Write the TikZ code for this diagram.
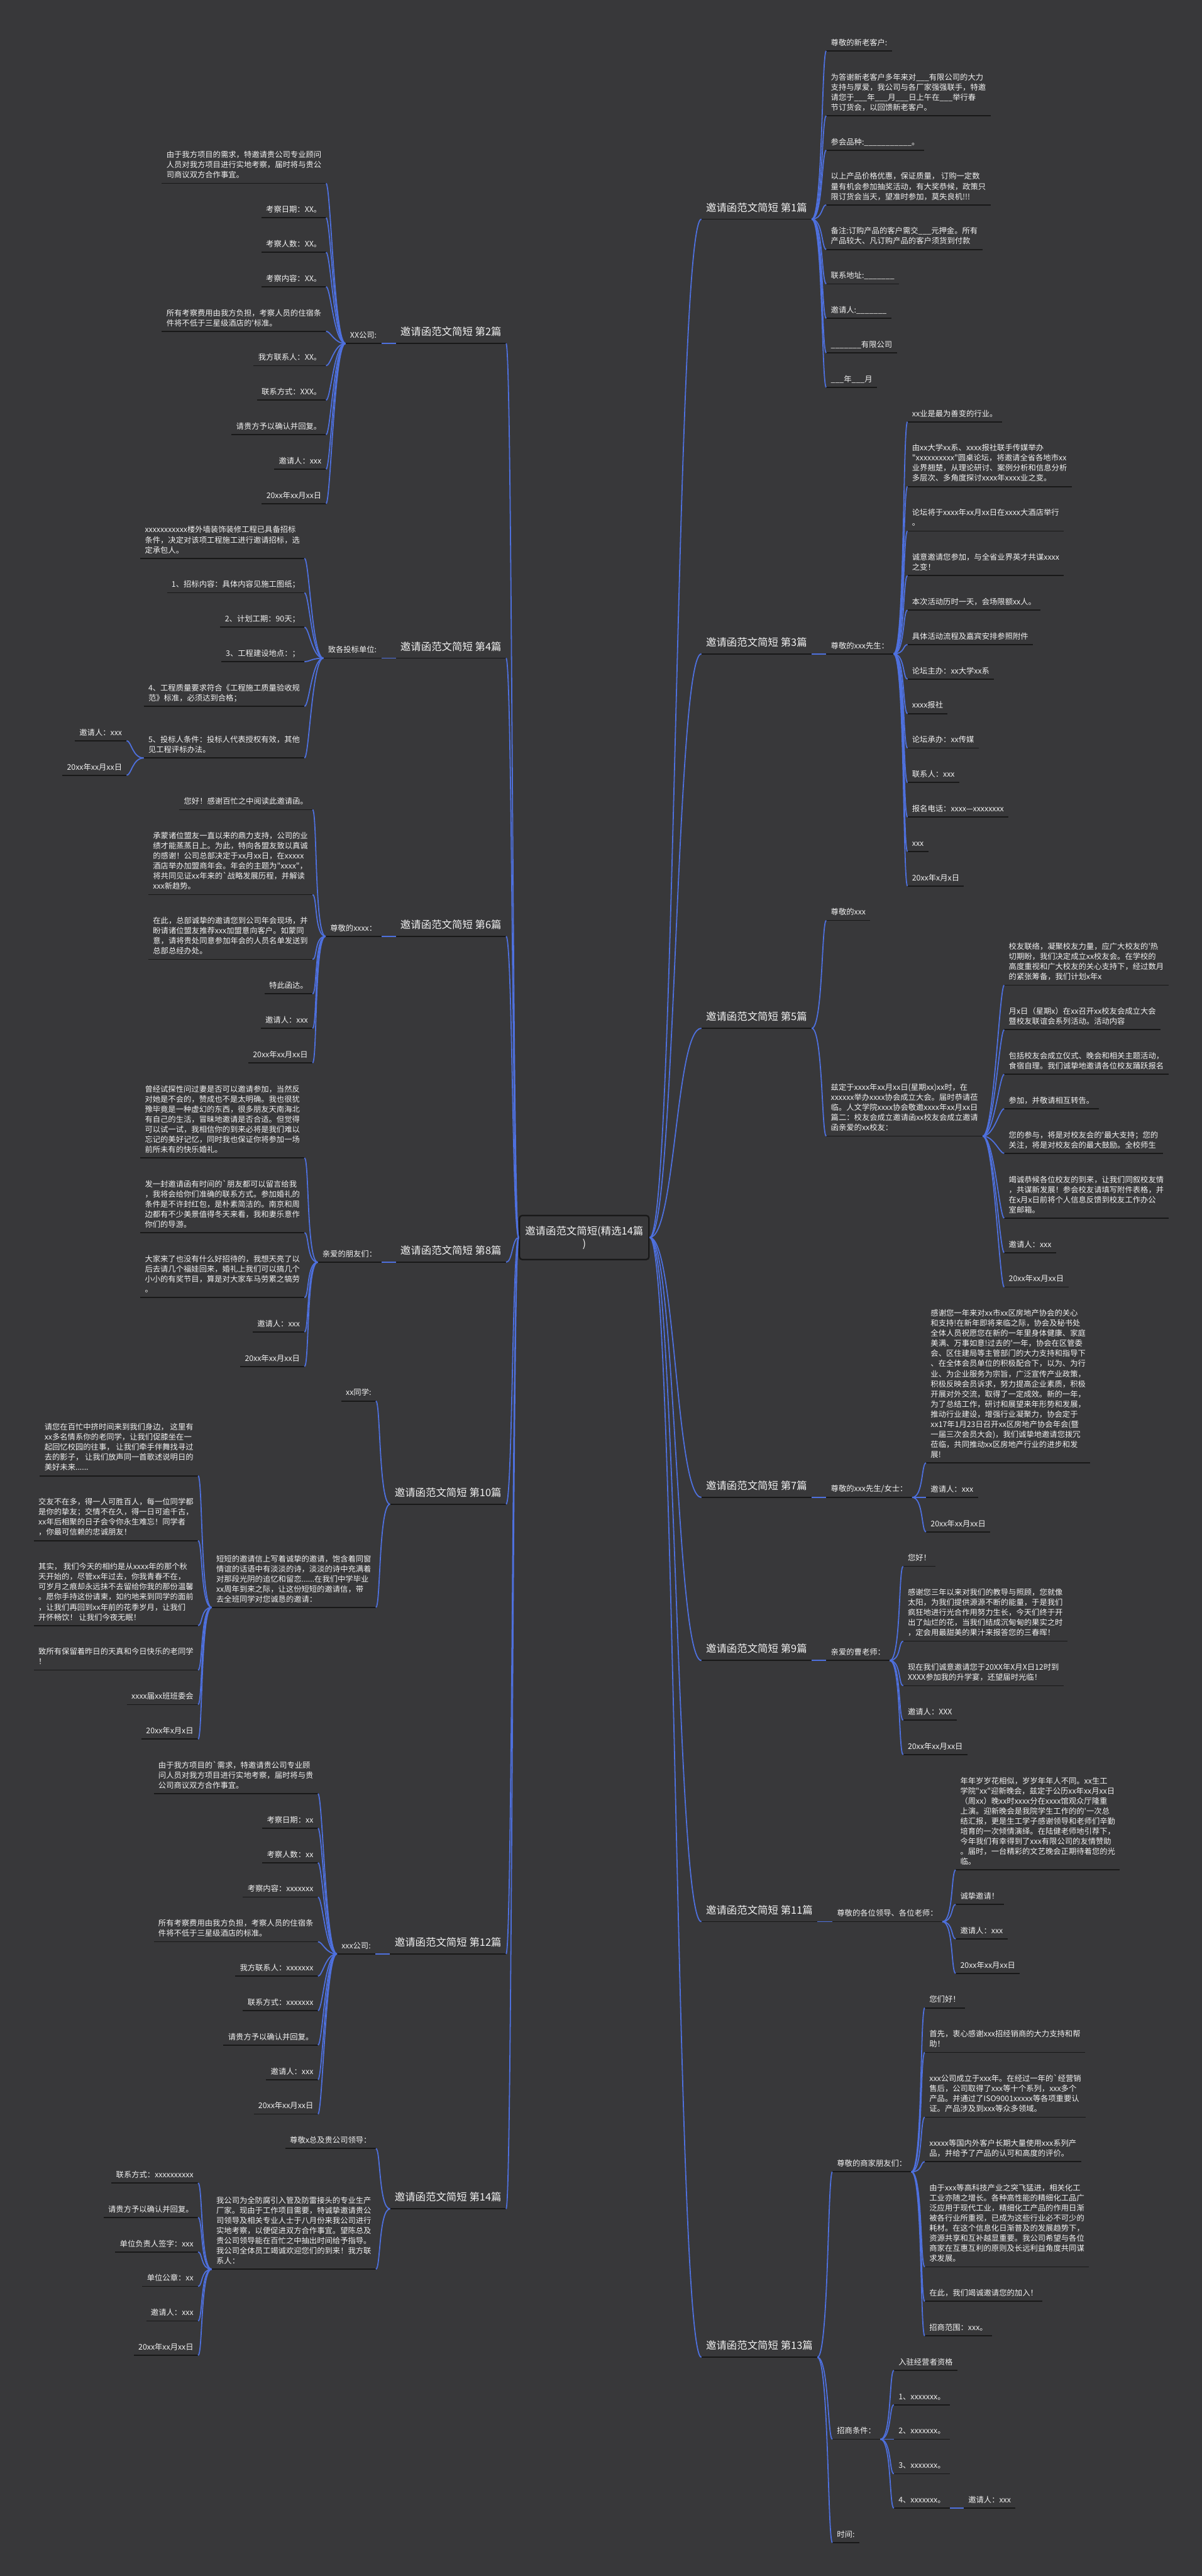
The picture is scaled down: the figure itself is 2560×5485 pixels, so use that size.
\documentclass[tikz,border=0pt]{standalone}
\usepackage{fontspec}
\newfontfamily\cjk{Noto Sans CJK SC}
\usetikzlibrary{calc}
\definecolor{bgc}{RGB}{56,56,58}
\definecolor{lnk}{RGB}{78,112,222}
\definecolor{ulc}{RGB}{24,24,24}
\definecolor{txc}{RGB}{242,242,242}
\tikzset{
  leaf/.style={inner xsep=4.75pt,inner ysep=4.5pt,align=left,text=txc,font=\cjk\fontsize{8.25}{10.75}\selectfont},
  brn/.style={inner xsep=4.75pt,inner ysep=6.8pt,align=left,text=txc,font=\cjk\fontsize{11}{13}\selectfont},
  ctr/.style={draw=ulc,line width=1.5pt,fill=bgc,rounded corners=3pt,inner xsep=6pt,inner ysep=11pt,align=center,text=txc,font=\cjk\fontsize{11}{13.5}\selectfont},
  ul/.style={draw=ulc,line width=1.2pt},
  conn/.style={draw=lnk,line width=1.2pt},
}
\newcommand\RN[4]{\node[leaf,anchor=south west] (#1) at (#2,#3) {#4\rule[-1.1pt]{0pt}{1pt}};\draw[ul] (#1.south west) -- (#1.south east);}
\newcommand\LN[4]{\node[leaf,anchor=south east] (#1) at (#2,#3) {#4\rule[-1.1pt]{0pt}{1pt}};\draw[ul] (#1.south west) -- (#1.south east);}
\newcommand\RB[3]{\node[brn,anchor=south west] (#1) at (1494,#2) {#3\rule[-1.3pt]{0pt}{1pt}};\draw[ul] (#1.south west) -- (#1.south east);}
\newcommand\LB[3]{\node[brn,anchor=south east] (#1) at (1078,#2) {#3\rule[-1.3pt]{0pt}{1pt}};\draw[ul] (#1.south west) -- (#1.south east);}
\newcommand\CR[2]{\draw[conn] (#1.south east) .. controls ([xshift=12pt]#1.south east) and ([xshift=-5pt]#2.south west) .. (#2.south west);}
\newcommand\CL[2]{\draw[conn] (#1.south west) .. controls ([xshift=-12pt]#1.south west) and ([xshift=5pt]#2.south east) .. (#2.south east);}
\begin{document}
\begin{tikzpicture}[x=0.5pt,y=-0.5pt]
\fill[bgc] (0,0) rectangle (2560,5485);
\useasboundingbox (0,0) rectangle (2560,5485);
% ---------------- center
\node[ctr,anchor=west] (C) at (1105,2635) {邀请函范文简短(精选14篇\\)};
% ---------------- right 1
\RB{b1}{466.6}{邀请函范文简短 第1篇}
\RN{n1a}{1760}{108.5}{尊敬的新老客户:}
\RN{n1b}{1760}{246.4}{为答谢新老客户多年来对\_\_\_有限公司的大力\\支持与厚爱，我公司与各厂家强强联手，特邀\\请您于\_\_\_年\_\_\_月\_\_\_日上午在\_\_\_举行春\\节订货会，以回馈新老客户。}
\RN{n1c}{1760}{319.8}{参会品种:\_\_\_\_\_\_\_\_\_\_\_。}
\RN{n1d}{1760}{436.2}{以上产品价格优惠，保证质量， 订购一定数\\量有机会参加抽奖活动，有大奖恭候，政策只\\限订货会当天，望准时参加，莫失良机!!!}
\RN{n1e}{1760}{531.1}{备注:订购产品的客户需交\_\_\_元押金。所有\\产品较大、凡订购产品的客户须货到付款}
\RN{n1f}{1760}{604.5}{联系地址:\_\_\_\_\_\_\_}
\RN{n1g}{1760}{677.9}{邀请人:\_\_\_\_\_\_\_}
\RN{n1h}{1760}{751.3}{\_\_\_\_\_\_\_有限公司}
\RN{n1i}{1760}{824.7}{\_\_\_年\_\_\_月}
\foreach \x in {a,...,i}{\CR{b1}{n1\x}}
% ---------------- right 3
\RB{b3}{1392.25}{邀请函范文简短 第3篇}
\RN{s3}{1760}{1392.25}{尊敬的xxx先生：}
\CR{b3}{s3}
\RN{n3a}{1933}{898.1}{xx业是最为善变的行业。}
\RN{n3b}{1933}{1036.0}{由xx大学xx系、xxxx报社联手传媒举办\\"xxxxxxxxxx"圆桌论坛，将邀请全省各地市xx\\业界翘楚，从理论研讨、案例分析和信息分析\\多层次、多角度探讨xxxx年xxxx业之变。}
\RN{n3c}{1933}{1130.9}{论坛将于xxxx年xx月xx日在xxxx大酒店举行\\。}
\RN{n3d}{1933}{1225.8}{诚意邀请您参加，与全省业界英才共谋xxxx\\之变！}
\RN{n3e}{1933}{1299.2}{本次活动历时一天，会场限额xx人。}
\RN{n3f}{1933}{1372.6}{具体活动流程及嘉宾安排参照附件}
\RN{n3g}{1933}{1446.0}{论坛主办：xx大学xx系}
\RN{n3h}{1933}{1519.4}{xxxx报社}
\RN{n3i}{1933}{1592.8}{论坛承办：xx传媒}
\RN{n3j}{1933}{1666.2}{联系人：xxx}
\RN{n3k}{1933}{1739.6}{报名电话：xxxx—xxxxxxxx}
\RN{n3l}{1933}{1813.0}{xxx}
\RN{n3m}{1933}{1886.4}{20xx年x月x日}
\foreach \x in {a,...,m}{\CR{s3}{n3\x}}
% ---------------- right 5
\RB{b5}{2189.45}{邀请函范文简短 第5篇}
\RN{n5a}{1760}{1959.8}{尊敬的xxx}
\RN{n5b}{1760}{2419.1}{兹定于xxxx年xx月xx日(星期xx)xx时，在\\xxxxxx举办xxxx协会成立大会。届时恭请莅\\临。人文学院xxxx协会敬邀xxxx年xx月xx日\\篇二：校友会成立邀请函xx校友会成立邀请\\函亲爱的xx校友：}
\CR{b5}{n5a}\CR{b5}{n5b}
\RN{m5a}{2139}{2097.7}{校友联络，凝聚校友力量，应广大校友的'热\\切期盼，我们决定成立xx校友会。在学校的\\高度重视和广大校友的关心支持下，经过数月\\的紧张筹备，我们计划x年x}
\RN{m5b}{2139}{2192.6}{月x日（星期x）在xx召开xx校友会成立大会\\暨校友联谊会系列活动。活动内容}
\RN{m5c}{2139}{2287.5}{包括校友会成立仪式、晚会和相关主题活动，\\食宿自理。我们诚挚地邀请各位校友踊跃报名}
\RN{m5d}{2139}{2360.9}{参加，并敬请相互转告。}
\RN{m5e}{2139}{2455.8}{您的参与，将是对校友会的'最大支持；您的\\关注，将是对校友会的最大鼓励。全校师生}
\RN{m5f}{2139}{2593.7}{竭诚恭候各位校友的到来，让我们同叙校友情\\，共谋新发展！参会校友请填写附件表格，并\\在x月x日前将个人信息反馈到校友工作办公\\室邮箱。}
\RN{m5g}{2139}{2667.1}{邀请人：xxx}
\RN{m5h}{2139}{2740.5}{20xx年xx月xx日}
\foreach \x in {a,...,h}{\CR{n5b}{m5\x}}
% ---------------- right 7
\RB{b7}{3188.3}{邀请函范文简短 第7篇}
\RN{s7}{1760}{3188.3}{尊敬的xxx先生/女士：}
\CR{b7}{s7}
\RN{n7a}{1972.6}{3114.9}{感谢您一年来对xx市xx区房地产协会的关心\\和支持!在新年即将来临之际，协会及秘书处\\全体人员祝愿您在新的一年里身体健康、家庭\\美满、万事如意!过去的'一年，协会在区管委\\会、区住建局等主管部门的大力支持和指导下\\、在全体会员单位的积极配合下，以为、为行\\业、为企业服务为宗旨，广泛宣传产业政策，\\积极反映会员诉求，努力提高企业素质，积极\\开展对外交流，取得了一定成效。新的一年，\\为了总结工作，研讨和展望来年形势和发展，\\推动行业建设，增强行业凝聚力，协会定于\\xx17年1月23日召开xx区房地产协会年会(暨\\一届三次会员大会)，我们诚挚地邀请您拨冗\\莅临，共同推动xx区房地产行业的进步和发\\展!}
\RN{n7b}{1972.6}{3188.3}{邀请人：xxx}
\RN{n7c}{1972.6}{3261.7}{20xx年xx月xx日}
\foreach \x in {a,...,c}{\CR{s7}{n7\x}}
% ---------------- right 9
\RB{b9}{3535.65}{邀请函范文简短 第9篇}
\RN{s9}{1760}{3535.65}{亲爱的曹老师：}
\CR{b9}{s9}
\RN{n9a}{1923.8}{3335.1}{您好！}
\RN{n9b}{1923.8}{3494.5}{感谢您三年以来对我们的教导与照顾，您就像\\太阳，为我们提供源源不断的能量，于是我们\\疯狂地进行光合作用努力生长，今天们终于开\\出了灿烂的花，当我们结成沉甸甸的果实之时\\，定会用最甜美的果汁来报答您的三春晖！}
\RN{n9c}{1923.8}{3589.4}{现在我们诚意邀请您于20XX年X月X日12时到\\XXXX参加我的升学宴，还望届时光临！}
\RN{n9d}{1923.8}{3662.8}{邀请人：XXX}
\RN{n9e}{1923.8}{3736.2}{20xx年xx月xx日}
\foreach \x in {a,...,e}{\CR{s9}{n9\x}}
% ---------------- right 11
\RB{b11}{4091.7}{邀请函范文简短 第11篇}
\RN{s11}{1773}{4091.7}{尊敬的各位领导、各位老师：}
\CR{b11}{s11}
\RN{n11a}{2035.7}{3981.6}{年年岁岁花相似，岁岁年年人不同。xx生工\\学院"xx"迎新晚会，兹定于公历xx年xx月xx日\\（周xx）晚xx时xxxx分在xxxx馆观众厅隆重\\上演。迎新晚会是我院学生工作的的'一次总\\结汇报，更是生工学子感谢领导和老师们辛勤\\培育的一次倾情演绎。在陆健老师地引荐下，\\今年我们有幸得到了xxx有限公司的友情赞助\\。届时，一台精彩的文艺晚会正期待着您的光\\临。}
\RN{n11b}{2035.7}{4055.0}{诚挚邀请！}
\RN{n11c}{2035.7}{4128.4}{邀请人：xxx}
\RN{n11d}{2035.7}{4201.8}{20xx年xx月xx日}
\foreach \x in {a,...,d}{\CR{s11}{n11\x}}
% ---------------- right 13
\RB{b13}{5019.2}{邀请函范文简短 第13篇}
\RN{s13a}{1773}{4624.4}{尊敬的商家朋友们：}
\RN{s13b}{1773}{5193.8}{招商条件：}
\RN{s13c}{1773}{5414.0}{时间:}
\CR{b13}{s13a}\CR{b13}{s13b}\CR{b13}{s13c}
\RN{n13a}{1969.8}{4275.2}{您们好！}
\RN{n13b}{1969.8}{4370.1}{首先，衷心感谢xxx招经销商的大力支持和帮\\助！}
\RN{n13c}{1969.8}{4508.0}{xxx公司成立于xxx年。在经过一年的`经营销\\售后，公司取得了xxx等十个系列，xxx多个\\产品。并通过了ISO9001xxxxx等各项重要认\\证。产品涉及到xxx等众多领域。}
\RN{n13d}{1969.8}{4602.9}{xxxxx等国内外客户长期大量使用xxx系列产\\品，并给予了产品的认可和高度的评价。}
\RN{n13e}{1969.8}{4826.8}{由于xxx等高科技产业之突飞猛进，相关化工\\工业亦随之增长。各种高性能的精细化工品广\\泛应用于现代工业，精细化工产品的作用日渐\\被各行业所重视，已成为这些行业必不可少的\\耗材。在这个信息化日渐普及的发展趋势下，\\资源共享和互补越显重要。我公司希望与各位\\商家在互惠互利的原则及长远利益角度共同谋\\求发展。}
\RN{n13f}{1969.8}{4900.2}{在此，我们竭诚邀请您的加入！}
\RN{n13g}{1969.8}{4973.6}{招商范围：xxx。}
\foreach \x in {a,...,g}{\CR{s13a}{n13\x}}
\RN{k13a}{1904}{5047.0}{入驻经营者资格}
\RN{k13b}{1904}{5120.4}{1、xxxxxxx。}
\RN{k13c}{1904}{5193.8}{2、xxxxxxx。}
\RN{k13d}{1904}{5267.2}{3、xxxxxxx。}
\RN{k13e}{1904}{5340.6}{4、xxxxxxx。}
\foreach \x in {a,...,e}{\CR{s13b}{k13\x}}
\RN{j13}{2052.7}{5340.6}{邀请人：xxx}
\CR{k13e}{j13}
% ---------------- left 2
\LB{b2}{731.35}{邀请函范文简短 第2篇}
\LN{s2}{812.2}{731.35}{XX公司:}
\CL{b2}{s2}
\LN{n2a}{694.5}{390.3}{由于我方项目的需求，特邀请贵公司专业顾问\\人员对我方项目进行实地考察，届时将与贵公\\司商议双方合作事宜。}
\LN{n2b}{694.5}{463.7}{考察日期：XX。}
\LN{n2c}{694.5}{537.1}{考察人数：XX。}
\LN{n2d}{694.5}{610.5}{考察内容：XX。}
\LN{n2e}{694.5}{705.4}{所有考察费用由我方负担，考察人员的住宿条\\件将不低于三星级酒店的'标准。}
\LN{n2f}{694.5}{778.8}{我方联系人：XX。}
\LN{n2g}{694.5}{852.2}{联系方式：XXX。}
\LN{n2h}{694.5}{925.6}{请贵方予以确认并回复。}
\LN{n2i}{694.5}{999.0}{邀请人：xxx}
\LN{n2j}{694.5}{1072.4}{20xx年xx月xx日}
\foreach \x in {a,...,j}{\CL{s2}{n2\x}}
% ---------------- left 4
\LB{b4}{1401.4}{邀请函范文简短 第4篇}
\LN{s4}{812.2}{1401.4}{致各投标单位:}
\CL{b4}{s4}
\LN{n4a}{648.6}{1188.8}{xxxxxxxxxxx楼外墙装饰装修工程已具备招标\\条件，决定对该项工程施工进行邀请招标，选\\定承包人。}
\LN{n4b}{648.6}{1262.2}{1、招标内容：具体内容见施工图纸；}
\LN{n4c}{648.6}{1335.6}{2、计划工期：90天；}
\LN{n4d}{648.6}{1409.0}{3、工程建设地点：；}
\LN{n4e}{648.6}{1503.9}{4、工程质量要求符合《工程施工质量验收规\\范》标准，必须达到合格；}
\LN{n4f}{648.6}{1614.0}{5、投标人条件：投标人代表授权有效，其他\\见工程评标办法。}
\foreach \x in {a,...,f}{\CL{s4}{n4\x}}
\LN{m4a}{269.8}{1577.3}{邀请人：xxx}
\LN{m4b}{269.8}{1650.7}{20xx年xx月xx日}
\CL{n4f}{m4a}\CL{n4f}{m4b}
% ---------------- left 6
\LB{b6}{1993.6}{邀请函范文简短 第6篇}
\LN{s6}{812.2}{1993.6}{尊敬的xxxx：}
\CL{b6}{s6}
\LN{n6a}{665.8}{1724.1}{您好！感谢百忙之中阅读此邀请函。}
\LN{n6b}{665.8}{1905.0}{承蒙诸位盟友一直以来的鼎力支持，公司的业\\绩才能蒸蒸日上。为此，特向各盟友致以真诚\\的感谢！公司总部决定于xx月xx日，在xxxxx\\酒店举办加盟商年会。年会的主题为"xxxx"，\\将共同见证xx年来的`战略发展历程，并解读\\xxx新趋势。}
\LN{n6c}{665.8}{2042.9}{在此，总部诚挚的邀请您到公司年会现场，并\\盼请诸位盟友推荐xxx加盟意向客户。如蒙同\\意，请将贵处同意参加年会的人员名单发送到\\总部总经办处。}
\LN{n6d}{665.8}{2116.3}{特此函达。}
\LN{n6e}{665.8}{2189.7}{邀请人：xxx}
\LN{n6f}{665.8}{2263.1}{20xx年xx月xx日}
\foreach \x in {a,...,f}{\CL{s6}{n6\x}}
% ---------------- left 8
\LB{b8}{2687.55}{邀请函范文简短 第8篇}
\LN{s8}{812.2}{2687.55}{亲爱的朋友们：}
\CL{b8}{s8}
\LN{n8a}{648.6}{2465.5}{曾经试探性问过妻是否可以邀请参加，当然反\\对她是不会的，赞成也不是太明确。我也很犹\\豫毕竟是一种虚幻的东西，很多朋友天南海北\\有自己的生活，冒昧地邀请是否合适。但觉得\\可以试一试，我相信你的到来必将是我们难以\\忘记的美好记忆，同时我也保证你将参加一场\\前所未有的快乐婚礼。}
\LN{n8b}{648.6}{2624.9}{发一封邀请函有时间的`朋友都可以留言给我\\，我将会给你们准确的联系方式。参加婚礼的\\条件是不许封红包，是朴素简洁的。南京和周\\边都有不少美景值得冬天来看，我和妻乐意作\\你们的导游。}
\LN{n8c}{648.6}{2762.8}{大家来了也没有什么好招待的，我想天亮了以\\后去请几个福娃回来，婚礼上我们可以搞几个\\小小的有奖节目，算是对大家车马劳累之犒劳\\。}
\LN{n8d}{648.6}{2836.2}{邀请人：xxx}
\LN{n8e}{648.6}{2909.6}{20xx年xx月xx日}
\foreach \x in {a,...,e}{\CL{s8}{n8\x}}
% ---------------- left 10
\LB{b10}{3202.8}{邀请函范文简短 第10篇}
\LN{n10a}{800.7}{2983.0}{xx同学:}
\LN{n10b}{800.7}{3422.65}{短短的邀请信上写着诚挚的邀请，饱含着同窗\\情谊的话语中有淡淡的诗，淡淡的诗中充满着\\对那段光阴的追忆和留恋......在我们中学毕业\\xx周年到来之际，让这份短短的邀请信，带\\去全班同学对您诚恳的邀请：}
\CL{b10}{n10a}\CL{b10}{n10b}
\LN{m10a}{421.9}{3142.4}{请您在百忙中挤时间来到我们身边， 这里有\\xx多名情系你的老同学，让我们促膝坐在一\\起回忆校园的往事， 让我们牵手伴舞找寻过\\去的影子， 让我们放声同一首歌述说明日的\\美好未来......}
\LN{m10b}{421.9}{3280.3}{交友不在多，得一人可胜百人，每一位同学都\\是你的挚友；交情不在久，得一日可逾千古，\\xx年后相聚的日子会令你永生难忘！同学者\\，你最可信赖的忠诚朋友！}
\LN{m10c}{421.9}{3461.2}{其实， 我们今天的相约是从xxxx年的那个秋\\天开始的，尽管xx年过去，你我青春不在，\\可岁月之痕却永远抹不去留给你我的那份温馨\\。愿你手持这份请柬，如约地来到同学的面前\\，让我们再回到xx年前的花季岁月，让我们\\开怀畅饮！ 让我们今夜无眠！}
\LN{m10d}{421.9}{3556.1}{致所有保留着昨日的天真和今日快乐的老同学\\！}
\LN{m10e}{421.9}{3629.5}{xxxx届xx班班委会}
\LN{m10f}{421.9}{3702.9}{20xx年x月x日}
\foreach \x in {a,...,f}{\CL{n10b}{m10\x}}
% ---------------- left 12
\LB{b12}{4160.35}{邀请函范文简短 第12篇}
\LN{s12}{799.6}{4160.35}{xxx公司:}
\CL{b12}{s12}
\LN{n12a}{677.3}{3819.3}{由于我方项目的`需求，特邀请贵公司专业顾\\问人员对我方项目进行实地考察，届时将与贵\\公司商议双方合作事宜。}
\LN{n12b}{677.3}{3892.7}{考察日期：xx}
\LN{n12c}{677.3}{3966.1}{考察人数：xx}
\LN{n12d}{677.3}{4039.5}{考察内容：xxxxxxx}
\LN{n12e}{677.3}{4134.4}{所有考察费用由我方负担，考察人员的住宿条\\件将不低于三星级酒店的标准。}
\LN{n12f}{677.3}{4207.8}{我方联系人：xxxxxxx}
\LN{n12g}{677.3}{4281.2}{联系方式：xxxxxxx}
\LN{n12h}{677.3}{4354.6}{请贵方予以确认并回复。}
\LN{n12i}{677.3}{4428.0}{邀请人：xxx}
\LN{n12j}{677.3}{4501.4}{20xx年xx月xx日}
\foreach \x in {a,...,j}{\CL{s12}{n12\x}}
% ---------------- left 14
\LB{b14}{4703.25}{邀请函范文简短 第14篇}
\LN{n14a}{800.7}{4574.8}{尊敬x总及贵公司领导：}
\LN{n14b}{800.7}{4831.7}{我公司为全防腐引入管及防雷接头的专业生产\\厂家。现由于工作项目需要，特诚挚邀请贵公\\司领导及相关专业人士于八月份来我公司进行\\实地考察，以便促进双方合作事宜。望陈总及\\贵公司领导能在百忙之中抽出时间给予指导。\\我公司全体员工竭诚欢迎您们的到来！我方联\\系人：}
\CL{b14}{n14a}\CL{b14}{n14b}
\LN{m14a}{421.9}{4648.2}{联系方式：xxxxxxxxxx}
\LN{m14b}{421.9}{4721.6}{请贵方予以确认并回复。}
\LN{m14c}{421.9}{4795.0}{单位负责人签字：xxx}
\LN{m14d}{421.9}{4868.4}{单位公章：xx}
\LN{m14e}{421.9}{4941.8}{邀请人：xxx}
\LN{m14f}{421.9}{5015.2}{20xx年xx月xx日}
\foreach \x in {a,...,f}{\CL{n14b}{m14\x}}
% ---------------- center links
\foreach \b in {b1,b3,b5,b7,b9,b11,b13}{\draw[conn] (C.east) .. controls +(55,0) and +(-55,0) .. (\b.south west);}
\foreach \b in {b2,b4,b6,b8,b10,b12,b14}{\draw[conn] (C.west) .. controls +(-14,0) and +(14,0) .. (\b.south east);}
\end{tikzpicture}
\end{document}
